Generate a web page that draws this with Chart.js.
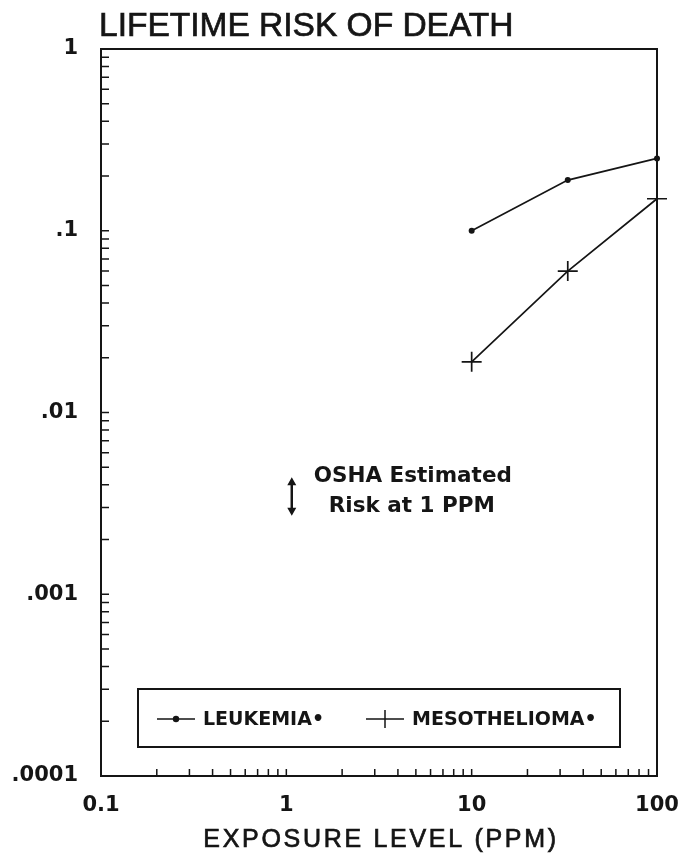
<!DOCTYPE html>
<html>
<head>
<meta charset="utf-8">
<script src="https://cdn.jsdelivr.net/npm/chart.js@4"></script>
<style>
  html, body { margin: 0; padding: 0; background: #fff; }
  #wrap { width: 680px; height: 858px; position: relative; }
</style>
</head>
<body>
<div id="wrap"><canvas id="riskChart"></canvas></div>
<script>
// exposure levels (ppm) and lifetime risk
var exposure = [10, 33, 100];
var leukemia = [0.1, 0.19, 0.25];
var mesothelioma = [0.019, 0.06, 0.15];
var seriesNames = ['LEUKEMIA\u2022', 'MESOTHELIOMA\u2022'];

var xDecades = [0.1, 1, 10, 100];
var xTickLabels = ['0.1', '1', '10', '100'];
var yDecades = [0.0001, 0.001, 0.01, 0.1, 1];
var yTickLabels = ['.0001', '.001', '.01', '.1', '1'];

// OSHA estimate at 1 ppm (arrow range)
var oshaX = 1.07;
var oshaRange = [0.0027, 0.0044];
var oshaText = ['OSHA Estimated', 'Risk at 1 PPM'];

var chartTitle = 'LIFETIME RISK OF DEATH';
var xTitle = 'EXPOSURE LEVEL (PPM)';

var INK = '#151515';
var BOLD = '"DejaVu Sans", "Liberation Sans", Arial, sans-serif';
var PLAIN = '"Liberation Sans", Arial, sans-serif';

function toPoints(xs, ys) {
    return xs.map(function(x, i) { return {x: x, y: ys[i]}; });
}

function logTicks(decades) {
    var out = [];
    for (var d = 0; d < decades.length; d++) {
        out.push({value: decades[d]});
        if (d == decades.length - 1) break;
        for (var k = 2; k <= 9; k++) {
            out.push({value: +(decades[d] * k).toPrecision(3)});
        }
    }
    return out;
}

function labelFor(value, decades, labels) {
    for (var i = 0; i < decades.length; i++) {
        if (Math.abs(value / decades[i] - 1) < 1e-6) return labels[i];
    }
    return '';
}

// frame, inward tick marks, titles, OSHA note and boxed legend
var decorations = {
    id: 'decorations',
    afterDraw: function(chart) {
        var ctx = chart.ctx;
        var a = chart.chartArea;
        var xs = chart.scales.x, ys = chart.scales.y;
        ctx.save();
        ctx.strokeStyle = INK;
        ctx.fillStyle = INK;

        // frame
        ctx.lineWidth = 2;
        ctx.strokeRect(a.left, a.top, a.right - a.left, a.bottom - a.top);

        // minor ticks pointing inward
        ctx.lineWidth = 1.5;
        ctx.beginPath();
        xs.ticks.forEach(function(t) {
            var px = xs.getPixelForValue(t.value);
            if (px <= a.left + 1 || px >= a.right - 1) return;
            ctx.moveTo(px, a.bottom);
            ctx.lineTo(px, a.bottom - 7);
        });
        ys.ticks.forEach(function(t) {
            var py = ys.getPixelForValue(t.value);
            if (py <= a.top + 1 || py >= a.bottom - 1) return;
            ctx.moveTo(a.left, py);
            ctx.lineTo(a.left + 8, py);
        });
        ctx.stroke();

        // chart title
        ctx.font = '33.5px ' + PLAIN;
        ctx.textAlign = 'left';
        ctx.textBaseline = 'alphabetic';
        ctx.lineWidth = 0.7;
        ctx.fillText(chartTitle, 99, 36);
        ctx.strokeText(chartTitle, 99, 36);

        // x axis title, widely tracked like the original
        ctx.font = '25px ' + PLAIN;
        ctx.textAlign = 'center';
        ctx.textBaseline = 'middle';
        if ('letterSpacing' in ctx) ctx.letterSpacing = '2.7px';
        ctx.fillText(xTitle, 381, 840);
        ctx.strokeText(xTitle, 381, 840);
        if ('letterSpacing' in ctx) ctx.letterSpacing = '0px';

        // OSHA arrow
        var ax = xs.getPixelForValue(oshaX);
        var y1 = ys.getPixelForValue(oshaRange[1]);
        var y2 = ys.getPixelForValue(oshaRange[0]);
        ctx.lineWidth = 2.5;
        ctx.beginPath();
        ctx.moveTo(ax, y1 + 4);
        ctx.lineTo(ax, y2 - 4);
        ctx.stroke();
        ctx.beginPath();
        ctx.moveTo(ax, y1); ctx.lineTo(ax - 4.5, y1 + 8); ctx.lineTo(ax + 4.5, y1 + 8); ctx.closePath();
        ctx.moveTo(ax, y2); ctx.lineTo(ax - 4.5, y2 - 8); ctx.lineTo(ax + 4.5, y2 - 8); ctx.closePath();
        ctx.fill();

        ctx.font = 'bold 21.5px ' + BOLD;
        ctx.textAlign = 'center';
        ctx.textBaseline = 'middle';
        ctx.fillText(oshaText[0], ax + 121, y1 - 1);
        ctx.fillText(oshaText[1], ax + 120, y1 + 29);

        // legend box
        var lx = 138, ly = 689, lw = 482, lh = 58;
        ctx.fillStyle = '#fff';
        ctx.fillRect(lx, ly, lw, lh);
        ctx.fillStyle = INK;
        ctx.lineWidth = 2;
        ctx.strokeRect(lx, ly, lw, lh);
        var my = ly + 30;
        ctx.lineWidth = 1.5;
        ctx.beginPath();
        ctx.moveTo(157, my); ctx.lineTo(195, my);
        ctx.moveTo(366, my); ctx.lineTo(404, my);
        ctx.moveTo(385, my - 9); ctx.lineTo(385, my + 9);
        ctx.stroke();
        ctx.beginPath();
        ctx.arc(176, my, 3.2, 0, Math.PI * 2);
        ctx.fill();
        ctx.font = 'bold 19px ' + BOLD;
        ctx.textAlign = 'left';
        ctx.fillText(seriesNames[0], 203, my + 1);
        ctx.fillText(seriesNames[1], 412, my + 1);
        ctx.restore();
    }
};

document.addEventListener('DOMContentLoaded', function() {
    var ctx = document.getElementById('riskChart').getContext('2d');
    var riskChart = new Chart(ctx, {
        type: 'scatter',
        data: {
            datasets: [{
                label: seriesNames[0],
                data: toPoints(exposure, leukemia),
                showLine: true,
                borderColor: INK,
                backgroundColor: INK,
                borderWidth: 1.7,
                pointStyle: 'circle',
                pointRadius: 3,
                pointBorderWidth: 0,
                clip: false
            }, {
                label: seriesNames[1],
                data: toPoints(exposure, mesothelioma),
                showLine: true,
                borderColor: INK,
                backgroundColor: INK,
                borderWidth: 1.7,
                pointStyle: 'cross',
                pointRadius: 10,
                pointBorderWidth: 1.7,
                clip: false
            }]
        },
        options: {
            responsive: true,
            maintainAspectRatio: false,
            animation: false,
            layout: { padding: { top: 49, right: 23, left: 0, bottom: 0 } },
            plugins: {
                legend: { display: false },
                title: { display: false },
                tooltip: { enabled: false }
            },
            scales: {
                x: {
                    type: 'logarithmic',
                    min: 0.1,
                    max: 100,
                    afterBuildTicks: function(scale) { scale.ticks = logTicks(xDecades); },
                    afterFit: function(scale) {
                        scale.height = 82;
                        scale.paddingLeft = 0;
                        scale.paddingRight = 0;
                    },
                    grid: { display: false },
                    border: { display: false },
                    ticks: {
                        autoSkip: false,
                        maxRotation: 0,
                        padding: 9,
                        color: INK,
                        font: { family: BOLD, size: 21, weight: 'bold' },
                        callback: function(value) { return labelFor(value, xDecades, xTickLabels); }
                    }
                },
                y: {
                    type: 'logarithmic',
                    min: 0.0001,
                    max: 1,
                    afterBuildTicks: function(scale) { scale.ticks = logTicks(yDecades); },
                    afterFit: function(scale) { scale.width = 101; },
                    grid: { display: false },
                    border: { display: false },
                    ticks: {
                        autoSkip: false,
                        padding: 15,
                        color: INK,
                        font: { family: BOLD, size: 21, weight: 'bold' },
                        callback: function(value) { return labelFor(value, yDecades, yTickLabels); }
                    }
                }
            }
        },
        plugins: [decorations]
    });
});
</script>
</body>
</html>
